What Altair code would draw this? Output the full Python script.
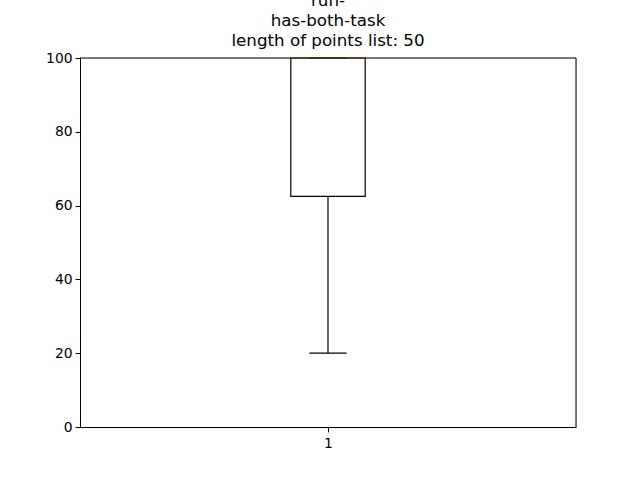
import altair as alt
import pandas as pd

# Box plot summary values
positions = [1]
whisker_low = [20.0]
q1 = [62.5]
median = [100.0]
q3 = [100.0]
whisker_high = [100.0]
tick_values = [0, 20, 40, 60, 80, 100]
title_lines = ["run-", "has-both-task", "length of points list: 50"]

box_w = 0.15
cap_w = box_w / 2

df = pd.DataFrame({
    "pos": positions,
    "wlo": whisker_low,
    "q1": q1,
    "med": median,
    "q3": q3,
    "whi": whisker_high,
})
df["bl"] = df["pos"] - box_w / 2
df["br"] = df["pos"] + box_w / 2
df["cl"] = df["pos"] - cap_w / 2
df["cr"] = df["pos"] + cap_w / 2

W, H = 496, 369

xscale = alt.Scale(domain=[0.5, 1.5], nice=False, zero=False)
yscale = alt.Scale(domain=[0, 100], nice=False)

label_size = 13.9
tick_size = 4.9

x_axis = alt.Axis(values=positions, format="d", title=None, grid=False,
                  tickSize=tick_size, labelFontSize=label_size, labelPadding=5,
                  domainColor="black", tickColor="black", labelColor="black",
                  labelFont="DejaVu Sans", zindex=1)
y_axis = alt.Axis(values=tick_values, title=None, grid=False, tickSize=tick_size,
                  labelFontSize=label_size, labelPadding=3, domainColor="black",
                  tickColor="black", labelColor="black", labelFont="DejaVu Sans",
                  zindex=1)


def X(field):
    return alt.X(field, type="quantitative", scale=xscale, axis=x_axis)


def Y(field):
    return alt.Y(field, type="quantitative", scale=yscale, axis=y_axis)


base = alt.Chart(df)
lw = 1.2

box = base.mark_rect(fill="white", stroke="black", strokeWidth=lw).encode(
    x=X("bl"), x2="br", y=Y("q1"), y2="q3",
)
lower_whisker = base.mark_rule(color="black", strokeWidth=lw).encode(
    x=X("pos"), y=Y("wlo"), y2="q1",
)
upper_whisker = base.mark_rule(color="black", strokeWidth=lw).encode(
    x=X("pos"), y=Y("q3"), y2="whi",
)
cap_low = base.mark_rule(color="black", strokeWidth=lw).encode(
    x=X("cl"), x2="cr", y=Y("wlo"),
)
cap_high = base.mark_rule(color="black", strokeWidth=lw).encode(
    x=X("cl"), x2="cr", y=Y("whi"),
)
med_line = base.mark_rule(color="#ff7f0e", strokeWidth=lw).encode(
    x=X("bl"), x2="br", y=Y("med"),
)
# top and right spines of the frame, drawn above the marks like matplotlib's
top_spine = base.mark_rule(color="black", strokeWidth=1).encode(
    x=alt.value(0), x2=alt.value(W), y=alt.value(0),
)
right_spine = base.mark_rule(color="black", strokeWidth=1).encode(
    x=alt.value(W), y=alt.value(0), y2=alt.value(H),
)

chart = alt.layer(
    box, lower_whisker, upper_whisker, cap_low, cap_high, med_line,
    top_spine, right_spine
).properties(
    width=W,
    height=H,
    autosize=alt.AutoSizeParams(type="none"),
    padding={"left": 80, "top": 58, "right": 64, "bottom": 53},
    title=alt.TitleParams(
        text=title_lines, fontSize=16.7, font="DejaVu Sans", fontWeight="normal",
        lineHeight=20, anchor="middle", color="black", offset=1,
    ),
).configure_view(stroke=None).configure(background="white")

chart.save("out.html", embed_options={"renderer": "svg", "actions": False})
